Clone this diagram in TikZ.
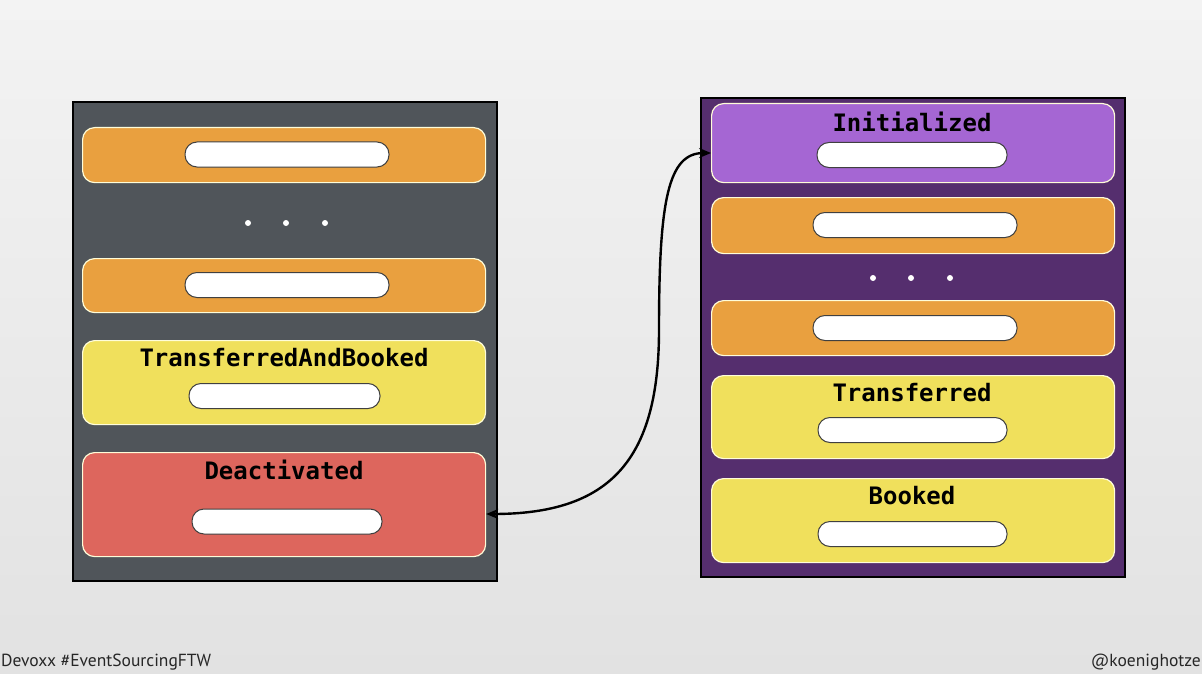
\documentclass[tikz,border=0pt]{standalone}
\usepackage{fontspec}
\setmonofont{DejaVu Sans Mono}
\setsansfont{PT Sans}
\usetikzlibrary{arrows.meta}
\definecolor{bgtop}{HTML}{F3F3F3}
\definecolor{bgbot}{HTML}{E2E2E2}
\definecolor{slate}{HTML}{50555A}
\definecolor{grape}{HTML}{552E6E}
\definecolor{lilac}{HTML}{A566D3}
\definecolor{amber}{HTML}{E9A03F}
\definecolor{lemon}{HTML}{F0E05C}
\definecolor{coral}{HTML}{DD665D}
\tikzset{
  container/.style={draw=black, line width=2pt, anchor=north west, inner sep=0pt},
  card/.style={draw=white!85!yellow, line width=1.2pt, rounded corners=12pt, anchor=north west, inner sep=0pt, minimum width=403pt},
  pill/.style={fill=white, draw=black!75, line width=1pt, rounded corners=12pt, inner sep=0pt, minimum height=25pt},
  title/.style={font=\ttfamily\bfseries\fontsize{24}{24}\selectfont, text=black, inner sep=0pt},
  dot/.style={circle, fill=white, inner sep=0pt, minimum size=6pt},
  foot/.style={font=\sffamily\fontsize{17.5}{17.5}\selectfont, text=black!85, inner sep=0pt},
  link/.style={line width=2.4pt, {Stealth[length=12pt,width=10pt]}-{Stealth[length=12pt,width=10pt]}}
}
\begin{document}
\begin{tikzpicture}[x=1pt,y=-1pt]
\shade[top color=bgtop, bottom color=bgbot] (0,0) rectangle (1202,674);
\useasboundingbox (0,0) rectangle (1202,674);
% left stack
\node[container, fill=slate, minimum width=424pt, minimum height=479pt] (lbox) at (72,101) {};
\node[card, fill=amber, minimum height=55pt] (l1) at (82,127) {};
\node[pill, minimum width=204pt] (l1p) at (287,154.5) {};
\node[dot] (ld1) at (248,223) {};
\node[dot] (ld2) at (286,223) {};
\node[dot] (ld3) at (325,223) {};
\node[card, fill=amber, minimum height=54pt] (l2) at (82,258) {};
\node[pill, minimum width=204pt] (l2p) at (287,285) {};
\node[card, fill=lemon, minimum height=84pt] (l3) at (82,340) {};
\node[title] (l3t) at (284,358) {TransferredAndBooked};
\node[pill, minimum width=191pt] (l3p) at (284.5,396) {};
\node[card, fill=coral, minimum height=104pt] (l4) at (82,452) {};
\node[title] (l4t) at (284,470) {Deactivated};
\node[pill, minimum width=190pt] (l4p) at (287,521.5) {};
% right stack
\node[container, fill=grape, minimum width=424pt, minimum height=479pt] (rbox) at (700,97) {};
\node[card, fill=lilac, minimum height=79pt] (r1) at (711,103) {};
\node[title] (r1t) at (912,122) {Initialized};
\node[pill, minimum width=190pt] (r1p) at (912,155) {};
\node[card, fill=amber, minimum height=56pt] (r2) at (711,197) {};
\node[pill, minimum width=204pt] (r2p) at (915,225) {};
\node[dot] (rd1) at (873,278) {};
\node[dot] (rd2) at (911,278) {};
\node[dot] (rd3) at (950,278) {};
\node[card, fill=amber, minimum height=55pt] (r3) at (711,300) {};
\node[pill, minimum width=204pt] (r3p) at (915,328) {};
\node[card, fill=lemon, minimum height=83pt] (r4) at (711,375) {};
\node[title] (r4t) at (912,393) {Transferred};
\node[pill, minimum width=189pt] (r4p) at (912.5,430) {};
\node[card, fill=lemon, minimum height=84pt] (r5) at (711,478) {};
\node[title] (r5t) at (912,496) {Booked};
\node[pill, minimum width=189pt] (r5p) at (912.5,534) {};
% connector
\coordinate (la) at (l4.east |- 0,514);
\coordinate (ra) at (r1.west |- 0,153);
\coordinate (mid) at (659,330);
\draw[link] (la) .. controls (610,514) and (659,460) .. (mid) .. controls (659,200) and (668,153) .. (ra);
% footer
\node[foot, anchor=south west] (fl) at (1,670) {Devoxx \#EventSourcingFTW};
\node[foot, anchor=south east] (fr) at (1201,670) {@koenighotze};
\end{tikzpicture}
\end{document}
